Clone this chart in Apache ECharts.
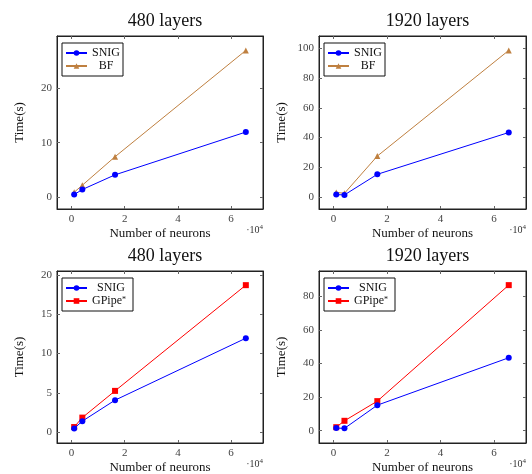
<!DOCTYPE html>
<html>
<head>
<meta charset="utf-8">
<script src="https://cdn.jsdelivr.net/npm/echarts@6/dist/echarts.min.js"></script>
<style>
	html, body { margin: 0; padding: 0; background: #fff; }
	#chart { width: 532px; height: 474px; }
</style>
</head>
<body>
<div id="chart"></div>
<script type="text/javascript">
	// number of neurons per layer
	var neurons = [1024, 4096, 16384, 65536];

	// 480 layers, top row
	var snig480a = [0.42, 1.35, 4.06, 11.95];
	var bf480 = [0.85, 2.15, 7.4, 27.0];
	// 1920 layers, top row
	var snig1920a = [1.5, 1.3, 15.2, 43.4];
	var bf1920 = [3.0, 2.4, 27.5, 98.8];
	// 480 layers, bottom row
	var snig480b = [0.48, 1.4, 4.07, 11.95];
	var gpipe480 = [0.65, 1.85, 5.25, 18.7];
	// 1920 layers, bottom row
	var snig1920b = [1.6, 1.4, 15.2, 43.4];
	var gpipe1920 = [2.1, 5.9, 17.6, 86.6];

	var xTicks = [0, 2, 4, 6];
	var yTicks480a = [0, 10, 20];
	var yTicks1920a = [0, 20, 40, 60, 80, 100];
	var yTicks480b = [0, 5, 10, 15, 20];
	var yTicks1920b = [0, 20, 40, 60, 80];

	var FONT = '"Liberation Serif", "DejaVu Serif", serif';
	var BLUE = '#0000ff', BROWN = '#bf8040', RED = '#ff0000';

	function pts(vals) {
		return neurons.map(function (n, i) { return [n / 10000, vals[i]]; });
	}

	var panels = [
		{ title: '480 layers', left: 57, top: 36, width: 206, height: 173, ymin: -2.24, ymax: 29.66, yticks: yTicks480a,
		  snig: snig480a, other: bf480, name: 'BF', color: BROWN, symbol: 'triangle', textW: 28 },
		{ title: '1920 layers', left: 319, top: 36, width: 207, height: 173, ymin: -8.2, ymax: 108.5, yticks: yTicks1920a,
		  snig: snig1920a, other: bf1920, name: 'BF', color: BROWN, symbol: 'triangle', textW: 28 },
		{ title: '480 layers', left: 57, top: 271, width: 206, height: 172, ymin: -1.38, ymax: 20.5, yticks: yTicks480b,
		  snig: snig480b, other: gpipe480, name: 'GPipe*', color: RED, symbol: 'rect', textW: 38 },
		{ title: '1920 layers', left: 319, top: 271, width: 207, height: 172, ymin: -7.3, ymax: 95.0, yticks: yTicks1920b,
		  snig: snig1920b, other: gpipe1920, name: 'GPipe*', color: RED, symbol: 'rect', textW: 38 }
	];

	var grid = [], xAxis = [], yAxis = [], series = [], title = [], legend = [], graphic = [];

	panels.forEach(function (p, k) {
		grid.push({ left: p.left, top: p.top, width: p.width, height: p.height, containLabel: false,
			show: true, borderColor: '#222', borderWidth: 1, backgroundColor: 'transparent' });

		var tickStyle = { show: true, inside: true, length: 3, lineStyle: { color: '#666' } };
		xAxis.push({ type: 'value', gridIndex: k, min: -0.5427, max: 7.1987, position: 'bottom',
			axisLine: { show: true, onZero: false, lineStyle: { color: '#222' } },
			axisTick: Object.assign({ customValues: xTicks }, tickStyle),
			axisLabel: { customValues: xTicks, color: '#444', fontFamily: FONT, fontSize: 11, margin: 5 },
			splitLine: { show: false } });
		xAxis.push({ type: 'value', gridIndex: k, min: -0.5427, max: 7.1987, position: 'top',
			axisLine: { show: true, onZero: false, lineStyle: { color: '#222' } },
			axisTick: Object.assign({ customValues: xTicks }, tickStyle),
			axisLabel: { show: false }, splitLine: { show: false } });
		yAxis.push({ type: 'value', gridIndex: k, min: p.ymin, max: p.ymax, position: 'left',
			axisLine: { show: true, onZero: false, lineStyle: { color: '#222' } },
			axisTick: Object.assign({ customValues: p.yticks }, tickStyle),
			axisLabel: { customValues: p.yticks, color: '#444', fontFamily: FONT, fontSize: 11, margin: 5 },
			splitLine: { show: false } });
		yAxis.push({ type: 'value', gridIndex: k, min: p.ymin, max: p.ymax, position: 'right',
			axisLine: { show: true, onZero: false, lineStyle: { color: '#222' } },
			axisTick: Object.assign({ customValues: p.yticks }, tickStyle),
			axisLabel: { show: false }, splitLine: { show: false } });

		series.push({ name: 'SNIG', type: 'line', xAxisIndex: 2 * k, yAxisIndex: 2 * k, data: pts(p.snig),
			symbol: 'circle', symbolSize: 6, lineStyle: { color: BLUE, width: 1 }, itemStyle: { color: BLUE },
			z: 3 });
		series.push({ name: p.name, type: 'line', xAxisIndex: 2 * k, yAxisIndex: 2 * k, data: pts(p.other),
			symbol: p.symbol, symbolSize: 6, lineStyle: { color: p.color, width: 1 },
			itemStyle: { color: p.color }, z: 2 });

		title.push({ text: p.title, left: p.left + p.width / 2, top: p.top - 29, textAlign: 'center',
			textStyle: { fontFamily: FONT, fontSize: 18, fontWeight: 'normal', color: '#111' } });

		legend.push({ orient: 'vertical', left: p.left + 5, top: p.top + 7,
			data: [{ name: 'SNIG' }, { name: p.name }],
			borderColor: '#111', borderWidth: 1, padding: [4, 3, 4, 3], itemGap: 1,
			itemWidth: 21, itemHeight: 7,
			formatter: function (name) {
				return name === 'GPipe*' ? '{t|GPipe}{s|*}' : '{c|' + name + '}';
			},
			textStyle: { fontFamily: FONT, fontSize: 12, color: '#111', lineHeight: 11,
				rich: {
					c: { fontFamily: FONT, fontSize: 12, color: '#111', width: p.textW, align: 'center' },
					t: { fontFamily: FONT, fontSize: 12, color: '#111' },
					s: { fontFamily: FONT, fontSize: 8, color: '#111', verticalAlign: 'top', padding: [0, 0, 4, 0] }
				} } });

		graphic.push({ type: 'text', rotation: Math.PI / 2, x: p.left - 37, y: p.top + p.height / 2,
			style: { text: 'Time(s)', fontFamily: FONT, fontSize: 13, fill: '#111', textAlign: 'center', textVerticalAlign: 'middle' } });
		graphic.push({ type: 'text', x: p.left + p.width / 2, y: p.top + p.height + 25,
			style: { text: 'Number of neurons', fontFamily: FONT, fontSize: 13, fill: '#111', textAlign: 'center', textVerticalAlign: 'middle' } });
		graphic.push({ type: 'text', x: p.left + p.width, y: p.top + p.height + 21,
			style: { text: '·10{s|4}', fontFamily: FONT, fontSize: 10, fill: '#333', textAlign: 'right', textVerticalAlign: 'middle',
				rich: { s: { fontFamily: FONT, fontSize: 7, verticalAlign: 'top', padding: [0, 0, 5, 0], fill: '#333' } } } });
	});

	var chart = echarts.init(document.getElementById('chart'), null, { renderer: 'canvas' });
	chart.setOption({
		animation: false,
		backgroundColor: '#fff',
		title: title,
		grid: grid,
		xAxis: xAxis,
		yAxis: yAxis,
		legend: legend,
		series: series,
		graphic: graphic
	});
</script>
</body>
</html>
